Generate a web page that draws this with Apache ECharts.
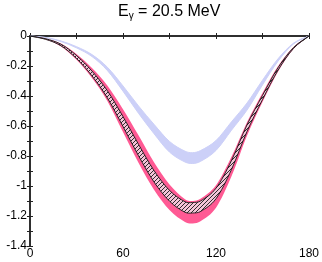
<!DOCTYPE html>
<html><head><meta charset="utf-8">
<script src="https://cdn.jsdelivr.net/npm/echarts@6/dist/echarts.min.js"></script>
<style>html,body{margin:0;padding:0;background:#fff}#c{width:322px;height:262px}</style>
</head><body><div id="c"></div>
<script>
var angles = [0,10,20,30,40,50,60,70,80,90,100,105,110,120,130,140,150,160,170,180];
var pinkUpper = [0,-0.016,-0.050,-0.120,-0.214,-0.332,-0.488,-0.662,-0.842,-0.990,-1.088,-1.100,-1.085,-0.995,-0.805,-0.575,-0.380,-0.202,-0.073,0];
var pinkLower = [0,-0.024,-0.070,-0.158,-0.280,-0.435,-0.640,-0.845,-1.025,-1.160,-1.240,-1.250,-1.235,-1.145,-0.935,-0.665,-0.440,-0.238,-0.087,0];
var hatchUpper = [0,-0.018,-0.055,-0.130,-0.234,-0.366,-0.537,-0.722,-0.897,-1.029,-1.105,-1.110,-1.100,-1.015,-0.830,-0.593,-0.396,-0.212,-0.077,0];
var hatchLower = [0,-0.022,-0.065,-0.150,-0.266,-0.414,-0.603,-0.798,-0.973,-1.101,-1.175,-1.180,-1.170,-1.085,-0.890,-0.637,-0.424,-0.228,-0.083,0];
var blueUpper = [0,-0.0095,-0.033,-0.071,-0.124,-0.209,-0.333,-0.466,-0.589,-0.703,-0.768,-0.778,-0.764,-0.697,-0.572,-0.447,-0.295,-0.152,-0.048,0];
var blueLower = [0,-0.0105,-0.037,-0.079,-0.137,-0.231,-0.368,-0.515,-0.651,-0.774,-0.840,-0.850,-0.836,-0.763,-0.628,-0.494,-0.326,-0.168,-0.053,0];
var xTicks = [0,60,120,180];
var titleMain = 'E', titleSub = 'γ', titleRest = ' = 20.5 MeV';

var pc = document.createElement('canvas');
pc.width = 4; pc.height = 4;
var g = pc.getContext('2d');
g.fillStyle = '#f4c4d8'; g.fillRect(0,0,4,4);
g.strokeStyle = '#1a1a1a'; g.lineWidth = 0.9;
g.beginPath(); g.moveTo(-1,5); g.lineTo(5,-1); g.stroke();
g.beginPath(); g.moveTo(-1,1); g.lineTo(1,-1); g.stroke();
g.beginPath(); g.moveTo(3,5); g.lineTo(5,3); g.stroke();

var blue = '#ccd0f8', pink = '#ff5a94';
var axisLine = {show:true, lineStyle:{color:'#222', width:1.5}};

function slopes(p){
  var n=p.length, m=[];
  for (var i=0;i<n;i++){
    if (i===0) m.push((p[1][1]-p[0][1])/(p[1][0]-p[0][0]));
    else if (i===n-1) m.push((p[n-1][1]-p[n-2][1])/(p[n-1][0]-p[n-2][0]));
    else m.push((p[i+1][1]-p[i-1][1])/(p[i+1][0]-p[i-1][0]));
  }
  return m;
}
function curve(p, start){
  var m=slopes(p), d = (start ? 'M' : 'L')+p[0][0]+' '+p[0][1];
  for (var i=0;i<p.length-1;i++){
    var dx=p[i+1][0]-p[i][0];
    d += 'C'+(p[i][0]+dx/3)+' '+(p[i][1]+m[i]*dx/3)+' '+(p[i+1][0]-dx/3)+' '+(p[i+1][1]-m[i+1]*dx/3)+' '+p[i+1][0]+' '+p[i+1][1];
  }
  return d;
}
function pts(api, arr){ return angles.map(function(a,i){ return api.coord([a, arr[i]]); }); }

function band(up, lo, fill, z, strokeW){
  return {
    type:'custom', z:z, silent:true, data:[[0]],
    renderItem:function(params, api){
      var d = curve(pts(api, up), true) + curve(pts(api, lo).reverse(), false) + 'Z';
      return {type:'path', shape:{pathData:d},
        style:{fill:fill, stroke:strokeW?fill:null, lineWidth:strokeW||0}};
    }
  };
}
function edge(arr, z){
  return {
    type:'custom', z:z, silent:true, data:[[0]],
    renderItem:function(params, api){
      return {type:'path', shape:{pathData:curve(pts(api, arr), true)},
        style:{fill:null, stroke:'#1a1a1a', lineWidth:0.9}};
    }
  };
}
var series = [
  band(blueUpper, blueLower, blue, 1, 1),
  band(pinkUpper, pinkLower, pink, 2, 0),
  band(hatchUpper, hatchLower, {image:pc, repeat:'repeat'}, 3, 0),
  edge(hatchUpper, 4),
  edge(hatchLower, 4)
];

var chart = echarts.init(document.getElementById('c'), null, {renderer:'canvas'});
chart.setOption({
  animation:false,
  backgroundColor:'#fff',
  grid:{left:30, right:13, top:36, bottom:16, containLabel:false},
  graphic:[{type:'text', left:118, top:2, style:{
    text:'{e|'+titleMain+'}{s|'+titleSub+'}{e|'+titleRest+'}',
    rich:{e:{fontSize:16, fontFamily:'Liberation Sans, Arial', fill:'#000', lineHeight:20},
          s:{fontSize:10, fontFamily:'Liberation Sans, Arial', fill:'#000', padding:[9,0,0,0], lineHeight:20}}
  }}],
  xAxis:[
    {type:'value', position:'bottom', min:0, max:180, interval:60,
     axisLine:axisLine, splitLine:{show:false},
     axisTick:{show:true, inside:true, length:3, lineStyle:{color:'#222'}},
     minorTick:{show:true, splitNumber:2, length:3, lineStyle:{color:'#222'}},
     axisLabel:{color:'#000', fontSize:12, fontFamily:'Liberation Sans, Arial', margin:2,
       formatter:function(v){ return xTicks.indexOf(v)>=0 ? String(v) : ''; }}},
    {type:'value', position:'top', min:0, max:180, interval:60,
     axisLine:axisLine, splitLine:{show:false},
     axisTick:{show:true, inside:true, length:3, lineStyle:{color:'#222'}},
     minorTick:{show:true, splitNumber:2, length:3, lineStyle:{color:'#222'}},
     axisLabel:{show:false}}
  ],
  yAxis:[
    {type:'value', position:'left', min:-1.4, max:0, interval:0.2,
     axisLine:axisLine, splitLine:{show:false},
     axisTick:{show:true, inside:true, length:3, lineStyle:{color:'#222'}},
     minorTick:{show:true, splitNumber:2, length:3, lineStyle:{color:'#222'}},
     axisLabel:{color:'#000', fontSize:12, fontFamily:'Liberation Sans, Arial', margin:3,
       formatter:function(v){ var r=Math.round(v*10)/10; return String(r); }}},
    {type:'value', position:'right', min:-1.4, max:0, interval:0.2,
     axisLine:axisLine, splitLine:{show:false},
     axisTick:{show:true, inside:true, length:3, lineStyle:{color:'#222'}},
     minorTick:{show:true, splitNumber:2, length:3, lineStyle:{color:'#222'}},
     axisLabel:{show:false}}
  ],
  series:series
});
</script></body></html>
